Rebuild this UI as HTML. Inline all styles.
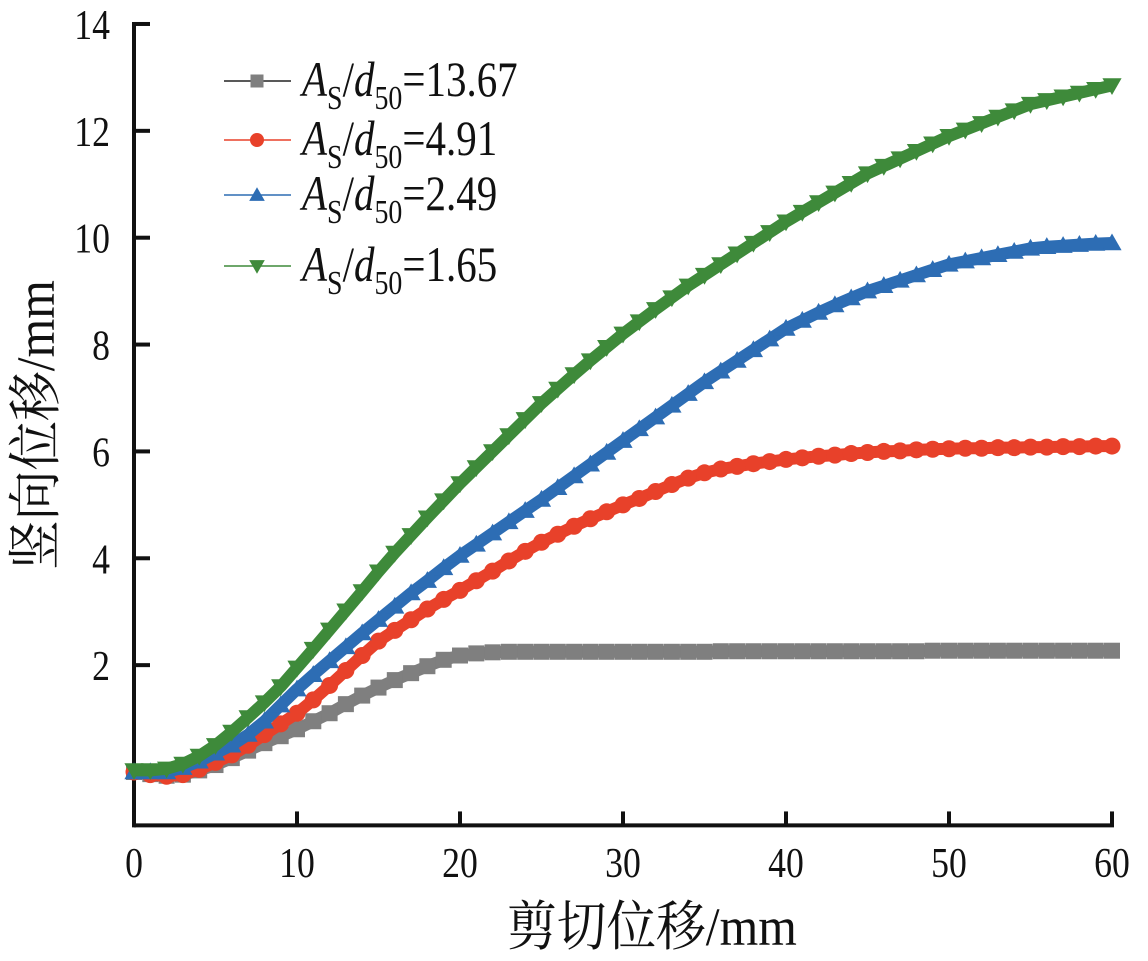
<!DOCTYPE html>
<html><head><meta charset="utf-8"><style>
html,body{margin:0;padding:0;background:#fff;}
svg{display:block;}
text{font-family:"Liberation Serif","Noto Serif CJK SC",serif;fill:#111;}
</style></head><body>
<svg id="chart" width="1148" height="961" viewBox="0 0 1148 961" xmlns="http://www.w3.org/2000/svg">
<g id="axes"></g>
<g id="series"></g>
<g id="legend"></g>
</svg>
<script>
const xValues = Array.from({length:61},(_, i)=>i);
const gray = [0,-0.04,-0.07,-0.05,0.03,0.13,0.26,0.4,0.54,0.67,0.8,0.95,1.1,1.27,1.43,1.58,1.72,1.85,1.98,2.1,2.18,2.22,2.24,2.25,2.25,2.25,2.25,2.25,2.25,2.25,2.25,2.25,2.25,2.25,2.25,2.25,2.26,2.26,2.26,2.26,2.26,2.26,2.26,2.26,2.26,2.26,2.26,2.26,2.26,2.27,2.27,2.27,2.27,2.27,2.27,2.27,2.27,2.27,2.27,2.27,2.27];
const red = [0,-0.05,-0.08,-0.05,0.05,0.18,0.32,0.5,0.7,0.9,1.1,1.35,1.62,1.9,2.18,2.45,2.65,2.85,3.05,3.23,3.4,3.58,3.76,3.95,4.13,4.3,4.45,4.6,4.74,4.87,5.0,5.12,5.25,5.38,5.5,5.6,5.67,5.72,5.77,5.81,5.85,5.88,5.91,5.93,5.96,5.98,6.0,6.01,6.03,6.04,6.05,6.06,6.06,6.07,6.07,6.08,6.08,6.09,6.09,6.1,6.1];
const blue = [0,0,0,0.08,0.2,0.35,0.5,0.7,0.95,1.25,1.55,1.82,2.08,2.34,2.6,2.85,3.1,3.35,3.58,3.82,4.05,4.26,4.47,4.68,4.89,5.1,5.32,5.54,5.76,5.98,6.2,6.42,6.64,6.86,7.08,7.3,7.5,7.7,7.9,8.1,8.3,8.45,8.6,8.74,8.87,9.0,9.1,9.2,9.3,9.4,9.5,9.56,9.62,9.68,9.74,9.8,9.83,9.85,9.87,9.89,9.9];
const green = [0.03,0.03,0.06,0.15,0.3,0.5,0.75,1.02,1.3,1.6,1.95,2.3,2.66,3.02,3.38,3.75,4.1,4.43,4.76,5.08,5.4,5.7,6.0,6.3,6.6,6.9,7.17,7.44,7.7,7.95,8.2,8.43,8.66,8.88,9.1,9.3,9.5,9.7,9.9,10.1,10.3,10.48,10.66,10.84,11.02,11.2,11.34,11.48,11.62,11.76,11.9,12.02,12.14,12.26,12.38,12.5,12.57,12.64,12.71,12.78,12.85];
const xTicks = [0,10,20,30,40,50,60];
const yTicks = [0,2,4,6,8,10,12,14];
const yTickLabels = ["","2","4","6","8","10","12","14"];
const seriesNames = ["13.67","4.91","2.49","1.65"];

const NS="http://www.w3.org/2000/svg";
const X0=134,X1=1112,Y0=772,YU=53.43;
const xs=v=>X0+(X1-X0)*v/60;
const ys=v=>Y0-YU*v;
function mk(tag,attrs,parent){const e=document.createElementNS(NS,tag);for(const k in attrs)e.setAttribute(k,attrs[k]);parent.appendChild(e);return e;}
const axes=document.getElementById('axes');
let e;
e=mk('line',{x1:X0,y1:ys(-1),x2:X1+2,y2:ys(-1),stroke:'#111','stroke-width':4},axes);

e=mk('line',{x1:X0,y1:ys(-1)+2,x2:X0,y2:ys(14)-2,stroke:'#111','stroke-width':4},axes);

xTicks.forEach(t=>{
  const l=mk('line',{x1:xs(t),y1:ys(-1),x2:xs(t),y2:ys(-1)-14,stroke:'#111','stroke-width':4},axes);
  
  const tx=mk('text',{x:0,y:0,'font-size':42,'text-anchor':'middle',transform:`translate(${xs(t)},877) scale(0.85,1)`},axes);
  tx.textContent=String(t);
  
});
yTicks.forEach((t,i)=>{
  const l=mk('line',{x1:X0,y1:ys(t),x2:X0+16,y2:ys(t),stroke:'#111','stroke-width':4},axes);
  
  const tx=mk('text',{x:0,y:0,'font-size':42,'text-anchor':'end',transform:`translate(110,${ys(t)+15}) scale(0.85,1)`},axes);
  tx.textContent=yTickLabels[i];
  
});
e=mk('text',{x:0,y:0,'font-size':54,'text-anchor':'middle',transform:'translate(652,945) scale(0.92,1)'},axes);
e.textContent='剪切位移/mm';

e=mk('text',{x:0,y:0,'font-size':54,'text-anchor':'middle',transform:'translate(54,425) rotate(-90) scale(0.92,1)'},axes);
e.textContent='竖向位移/mm';


const colors=['#7f7f7f','#e8412a','#2d6db4','#3e8a3a'];
const shapes=['square','circle','up','down'];
function marker(shape,x,y,s,c,g){
  let m;
  if(shape==='square')m=mk('rect',{x:x-s/2,y:y-s/2,width:s,height:s,fill:c},g);
  else if(shape==='circle')m=mk('circle',{cx:x,cy:y,r:s/2+0.5,fill:c},g);
  else if(shape==='up')m=mk('polygon',{points:`${x},${y-s*0.6} ${x-s*0.6},${y+s*0.45} ${x+s*0.6},${y+s*0.45}`,fill:c},g);
  else m=mk('polygon',{points:`${x},${y+s*0.6} ${x-s*0.6},${y-s*0.45} ${x+s*0.6},${y-s*0.45}`,fill:c},g);
  return m;
}
const seriesG=document.getElementById('series');
[gray,red,blue,green].forEach((data,si)=>{
  const g=mk('g',{},seriesG);
  
  
  const pts=data.map((v,i)=>xs(xValues[i])+','+ys(v)).join(' ');
  const pl=mk('polyline',{points:pts,fill:'none',stroke:colors[si],'stroke-width':12,'stroke-linejoin':'round'},g);
  
  
  data.forEach((v,i)=>{
    const m=marker(shapes[si],xs(xValues[i]),ys(v),16,colors[si],g);
    
    
  });
});
const legend=document.getElementById('legend');
const ly=[81,140,195,266];
seriesNames.forEach((n,i)=>{
  const g=mk('g',{},legend);
  
  
  const lineC=i===0?'#222':colors[i];
  mk('line',{x1:224,y1:ly[i],x2:291,y2:ly[i],stroke:lineC,'stroke-width':1.5},g);
  marker(shapes[i],257,ly[i],13,colors[i],g);
  const t=mk('text',{x:0,y:0,'font-size':50,transform:`translate(302,${ly[i]+15}) scale(0.82,1)`},g);
  t.innerHTML='<tspan font-style="italic">A</tspan><tspan font-size="34" dy="13">S</tspan><tspan dy="-13">/</tspan><tspan font-style="italic">d</tspan><tspan font-size="34" dy="13">50</tspan><tspan dy="-13">='+n+'</tspan>';
});
</script>
</body></html>
